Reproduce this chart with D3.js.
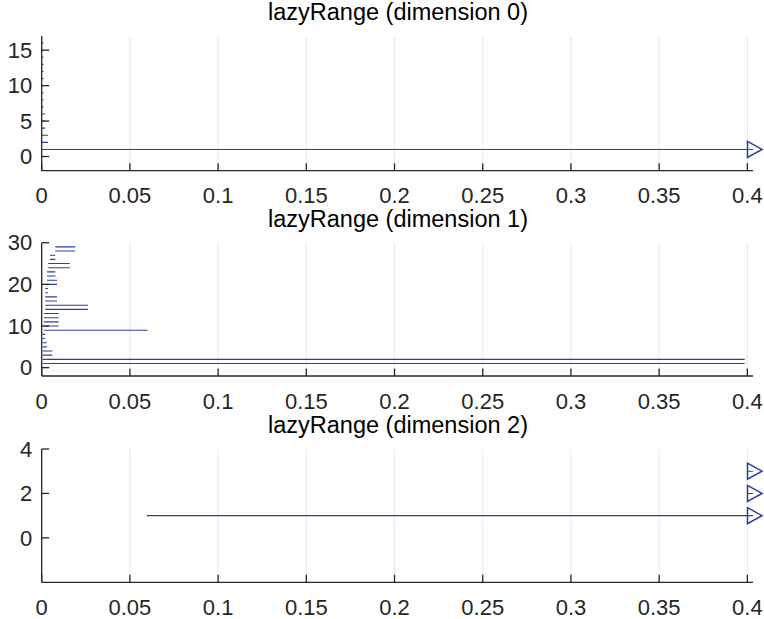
<!DOCTYPE html>
<html>
<head>
<meta charset="utf-8">
<script src="https://cdn.jsdelivr.net/npm/d3@7"></script>
<style>
  body { margin: 0; background: #fff; }
  svg { display: block; font-family: "Liberation Sans", Helvetica, Arial, sans-serif; }
</style>
</head>
<body>
<svg id="chart" width="764" height="619"></svg>
<script>
// tick values / labels shared by all panels
var xTicks = [0, 0.05, 0.1, 0.15, 0.2, 0.25, 0.3, 0.35, 0.4];
var xTickLabels = ["0", "0.05", "0.1", "0.15", "0.2", "0.25", "0.3", "0.35", "0.4"];
var xMax = 0.4032;

// dimension 0
var dim0Y     = [1, 2, 3, 4, 5, 6, 7, 8, 9, 10, 11, 12, 13, 14, 15, 16];
var dim0Start = [0, 0, 0, 0, 0, 0, 0, 0, 0, 0, 0, 0, 0, 0, 0, 0];
var dim0End   = [0.45, 0.0036, 0.0036, 0.002, 0.002, 0.002, 0.001, 0.001, 0.001, 0.001, 0.001, 0.001, 0.001, 0.001, 0.001, 0.001];

// dimension 1
var dim1Y     = [1, 2, 3, 4, 5, 6, 7, 8, 9, 10, 11, 12, 13, 14, 15,
                 16, 17, 18, 19, 20, 21, 22, 23, 24, 25, 26, 27, 28, 29];
var dim1Start = [0.0006, 0.0006, 0.0006, 0.0006, 0.0006, 0.0006, 0.0006, 0.0006, 0.0013, 0.0013,
                 0.0013, 0.0013, 0.0013, 0.002, 0.002, 0.002, 0.002, 0.002, 0.002, 0.003,
                 0.003, 0.003, 0.003, 0.0037, 0.0037, 0.0047, 0.0047, 0.0077, 0.0077];
var dim1End   = [0.3985, 0.3985, 0.006, 0.006, 0.003, 0.003, 0.002, 0.002, 0.060, 0.0096,
                 0.0096, 0.0096, 0.0096, 0.0262, 0.0262, 0.0087, 0.0087, 0.0036, 0.0036, 0.0087,
                 0.0087, 0.0079, 0.0077, 0.0159, 0.0159, 0.0077, 0.0077, 0.0189, 0.019];

// dimension 2
var dim2Y     = [1, 2, 3];
var dim2Start = [0.0595, 0.4, 0.4];
var dim2End   = [0.45, 0.45, 0.45];

var panels = [
  {title: "lazyRange (dimension 0)", top: 36,    bottom: 170.7, yDomain: [-2, 17], yTicks: [0, 5, 10, 15],
   ys: dim0Y, starts: dim0Start, ends: dim0End},
  {title: "lazyRange (dimension 1)", top: 242.7, bottom: 376,   yDomain: [-2, 30], yTicks: [0, 10, 20, 30],
   ys: dim1Y, starts: dim1Start, ends: dim1End},
  {title: "lazyRange (dimension 2)", top: 449,   bottom: 582.3, yDomain: [-2, 4],  yTicks: [0, 2, 4],
   ys: dim2Y, starts: dim2Start, ends: dim2End}
];

var svg = d3.select("#chart");
var left = 41.7, right = 753;
var blue = "#2b3e9e", ink = "#262626";
var fs = 22;

var x = d3.scaleLinear().domain([0, xMax]).range([left, right]);

panels.forEach(function(p, i) {
  var y = d3.scaleLinear().domain(p.yDomain).range([p.bottom, p.top]);
  var g = svg.append("g");

  // grid
  g.selectAll("line.grid").data(xTicks.slice(1)).enter().append("line")
    .attr("x1", d => x(d)).attr("x2", d => x(d))
    .attr("y1", p.top).attr("y2", p.bottom)
    .attr("stroke", "#e8e8e8").attr("stroke-width", 1);

  // data
  var clipId = "clip" + i;
  svg.append("clipPath").attr("id", clipId).append("rect")
    .attr("x", left).attr("y", p.top - 2).attr("width", right - left).attr("height", p.bottom - p.top + 4);

  var rows = p.ys.map(function(v, k) { return {y: v, s: p.starts[k], e: p.ends[k]}; });
  g.append("g").attr("clip-path", "url(#" + clipId + ")")
    .selectAll("line").data(rows).enter().append("line")
    .attr("x1", d => x(d.s)).attr("x2", d => x(Math.min(d.e, xMax)))
    .attr("y1", d => y(d.y)).attr("y2", d => y(d.y))
    .attr("stroke", blue).attr("stroke-width", 1.1);

  // out-of-range markers
  g.selectAll("path.arrow").data(rows.filter(d => d.e > xMax)).enter().append("path")
    .attr("d", function(d) {
      var cx = x(xMax), cy = y(d.y);
      return "M" + (cx - 5.5) + "," + (cy - 8) + "L" + (cx + 9) + "," + cy + "L" + (cx - 5.5) + "," + (cy + 8) + "Z";
    })
    .attr("fill", "none").attr("stroke", blue).attr("stroke-width", 1.5);

  // axes
  g.append("line").attr("x1", left).attr("x2", left).attr("y1", p.top).attr("y2", p.bottom)
    .attr("stroke", ink).attr("stroke-width", 1.3);
  g.append("line").attr("x1", left).attr("x2", right).attr("y1", p.bottom).attr("y2", p.bottom)
    .attr("stroke", ink).attr("stroke-width", 1.3);

  g.selectAll("line.xt").data(xTicks).enter().append("line")
    .attr("x1", d => x(d)).attr("x2", d => x(d))
    .attr("y1", p.bottom).attr("y2", p.bottom - 7.5)
    .attr("stroke", ink).attr("stroke-width", 1.3);
  g.selectAll("line.yt").data(p.yTicks).enter().append("line")
    .attr("x1", left).attr("x2", left + 7.5)
    .attr("y1", d => y(d)).attr("y2", d => y(d))
    .attr("stroke", ink).attr("stroke-width", 1.3);

  g.selectAll("text.xl").data(xTicks).enter().append("text")
    .attr("x", d => x(d)).attr("y", p.bottom + 32.5)
    .attr("text-anchor", "middle").attr("font-size", fs).attr("fill", ink)
    .text((d, k) => xTickLabels[k]);
  g.selectAll("text.yl").data(p.yTicks).enter().append("text")
    .attr("x", left - 9.5).attr("y", d => y(d) + 7.7)
    .attr("text-anchor", "end").attr("font-size", fs).attr("fill", ink)
    .text(d => d);

  g.append("text").attr("x", 398).attr("y", p.top - 16)
    .attr("text-anchor", "middle").attr("font-size", 23.5).attr("fill", "#000")
    .text(p.title);
});
</script>
</body>
</html>
